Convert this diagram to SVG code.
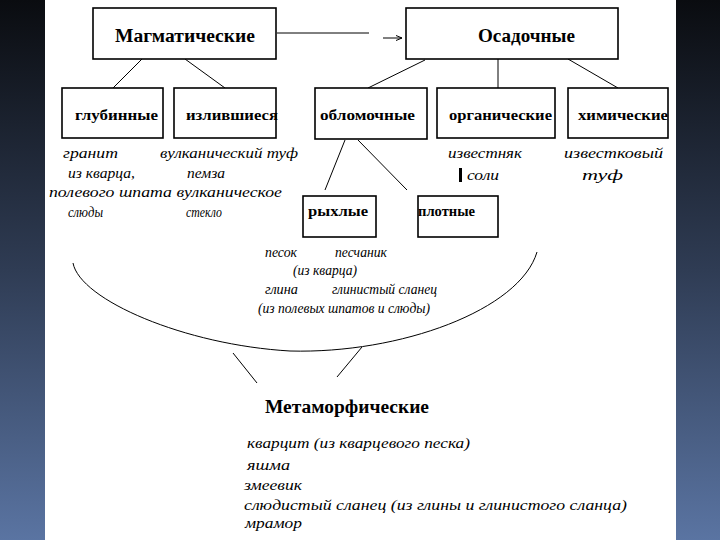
<svg xmlns="http://www.w3.org/2000/svg" width="720" height="540" viewBox="0 0 720 540">
<defs>
<linearGradient id="bg" x1="0" y1="0" x2="0" y2="1">
<stop offset="0" stop-color="#0a0c10"/>
<stop offset="0.5" stop-color="#2f3c54"/>
<stop offset="1" stop-color="#5a74a2"/>
</linearGradient>
<marker id="ah" viewBox="0 0 6 6" refX="6" refY="3" markerWidth="6" markerHeight="6" markerUnits="userSpaceOnUse" orient="auto">
<path d="M0,0.5 L6,3 L0,5.5" fill="none" stroke="#000" stroke-width="1"/>
</marker>
<style>
.box{fill:#fff;stroke:#000;stroke-width:1.6}
.ttl{font-family:"Liberation Serif","DejaVu Serif",serif;font-weight:bold;font-size:18px;fill:#000}
.sub{font-family:"Liberation Serif","DejaVu Serif",serif;font-weight:bold;font-size:14px;fill:#000}
.it{font-family:"Liberation Serif","DejaVu Serif",serif;font-style:italic;font-size:14px;fill:#000}
.ln{stroke:#000;stroke-width:1;fill:none}
</style>
</defs>
<rect x="0" y="0" width="720" height="540" fill="url(#bg)"/>
<rect x="45" y="0" width="631" height="540" fill="#fff"/>

<g id="connectors">
<line class="ln" x1="277" y1="33" x2="369" y2="33" stroke-width="2"/>
<line class="ln" x1="383" y1="38" x2="402" y2="38" marker-end="url(#ah)"/>
<line class="ln" x1="142" y1="59" x2="113" y2="88"/>
<line class="ln" x1="185" y1="59" x2="225" y2="88"/>
<line class="ln" x1="425" y1="60" x2="368" y2="88"/>
<line class="ln" x1="498" y1="59" x2="498" y2="88"/>
<line class="ln" x1="568" y1="59" x2="618" y2="88"/>
<line class="ln" x1="345" y1="140" x2="325" y2="190"/>
<line class="ln" x1="358" y1="140" x2="407" y2="190"/>
<path class="ln" stroke-width="1.4" d="M73,263 C80,300 185,345 290,351 C400,354 520,310 537,252"/>
<line class="ln" x1="233" y1="353" x2="257" y2="383"/>
<line class="ln" x1="362" y1="347" x2="337" y2="377"/>
</g>

<g id="magmatic">
<rect class="box" x="93" y="8" width="183" height="51"/>
<text class="ttl" x="115" y="42" textLength="140" lengthAdjust="spacingAndGlyphs">Магматические</text>
</g>
<g id="sedimentary">
<rect class="box" x="406" y="8" width="212" height="51"/>
<text class="ttl" x="478" y="42" textLength="97" lengthAdjust="spacingAndGlyphs">Осадочные</text>
</g>
<g id="deep">
<rect class="box" x="62" y="88" width="101" height="50"/>
<text class="sub" x="75" y="120" textLength="83" lengthAdjust="spacingAndGlyphs">глубинные</text>
</g>
<g id="effusive">
<rect class="box" x="174" y="88" width="102" height="50"/>
<text class="sub" x="186" y="120" textLength="92" lengthAdjust="spacingAndGlyphs">излившиеся</text>
</g>
<g id="clastic">
<rect class="box" x="315" y="88" width="112" height="51"/>
<text class="sub" x="320" y="120" textLength="95" lengthAdjust="spacingAndGlyphs">обломочные</text>
</g>
<g id="organic">
<rect class="box" x="437" y="88" width="118" height="50"/>
<text class="sub" x="449" y="120" textLength="103" lengthAdjust="spacingAndGlyphs">органические</text>
</g>
<g id="chemical">
<rect class="box" x="568" y="88" width="100" height="50"/>
<text class="sub" x="578" y="120" textLength="90" lengthAdjust="spacingAndGlyphs">химические</text>
</g>
<g id="loose">
<rect class="box" x="303" y="196" width="73" height="41"/>
<text class="sub" x="308" y="216" textLength="60" lengthAdjust="spacingAndGlyphs">рыхлые</text>
</g>
<g id="dense">
<rect class="box" x="418" y="196" width="80" height="41"/>
<text class="sub" x="418" y="216" textLength="57" lengthAdjust="spacingAndGlyphs">плотные</text>
</g>

<g id="examples">
<text class="it" x="63" y="158" textLength="55" lengthAdjust="spacingAndGlyphs">гранит</text>
<text class="it" x="160" y="158" textLength="138" lengthAdjust="spacingAndGlyphs">вулканический туф</text>
<text class="it" x="68" y="178" textLength="67" lengthAdjust="spacingAndGlyphs">из кварца,</text>
<text class="it" x="187" y="178" textLength="38" lengthAdjust="spacingAndGlyphs">пемза</text>
<text class="it" x="49" y="197" textLength="233" lengthAdjust="spacingAndGlyphs">полевого шпата вулканическое</text>
<text class="it" x="68" y="217" textLength="35" lengthAdjust="spacingAndGlyphs">слюды</text>
<text class="it" x="186" y="217" textLength="36" lengthAdjust="spacingAndGlyphs">стекло</text>
<text class="it" x="448" y="158" textLength="74" lengthAdjust="spacingAndGlyphs">известняк</text>
<rect x="459" y="168" width="3" height="14" fill="#000"/>
<text class="it" x="467" y="180" textLength="32" lengthAdjust="spacingAndGlyphs">соли</text>
<text class="it" x="564" y="158" textLength="99" lengthAdjust="spacingAndGlyphs">известковый</text>
<text class="it" x="582" y="180" textLength="41" lengthAdjust="spacingAndGlyphs">туф</text>
<text class="it" x="265" y="257" textLength="32" lengthAdjust="spacingAndGlyphs">песок</text>
<text class="it" x="335" y="257" textLength="52" lengthAdjust="spacingAndGlyphs">песчаник</text>
<text class="it" x="293" y="275" textLength="64" lengthAdjust="spacingAndGlyphs">(из кварца)</text>
<text class="it" x="265" y="294" textLength="33" lengthAdjust="spacingAndGlyphs">глина</text>
<text class="it" x="332" y="294" textLength="105" lengthAdjust="spacingAndGlyphs">глинистый сланец</text>
<text class="it" x="258" y="313" textLength="172" lengthAdjust="spacingAndGlyphs">(из полевых шпатов и слюды)</text>
</g>

<g id="metamorphic">
<text class="ttl" x="265" y="413" textLength="164" lengthAdjust="spacingAndGlyphs">Метаморфические</text>
<text class="it" x="247" y="448" textLength="223" lengthAdjust="spacingAndGlyphs">кварцит (из кварцевого песка)</text>
<text class="it" x="247" y="470" textLength="43" lengthAdjust="spacingAndGlyphs">яшма</text>
<text class="it" x="244" y="490" font-size="12" textLength="58" lengthAdjust="spacingAndGlyphs">змеевик</text>
<text class="it" x="244" y="510" textLength="383" lengthAdjust="spacingAndGlyphs">слюдистый сланец (из глины и глинистого сланца)</text>
<text class="it" x="245" y="528" textLength="57" lengthAdjust="spacingAndGlyphs">мрамор</text>
</g>
</svg>
